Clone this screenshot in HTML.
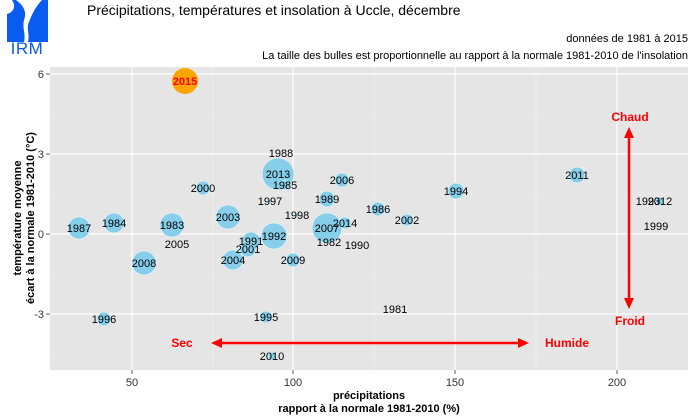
<!DOCTYPE html>
<html><head><meta charset="utf-8"><style>
body{margin:0;background:#fff;}
svg{display:block;font-family:"Liberation Sans",sans-serif;}
</style></head><body>
<svg width="700" height="420" viewBox="0 0 700 420" xmlns="http://www.w3.org/2000/svg">
<!-- logo -->
<rect x="7" y="0" width="41" height="42" fill="#0a5bf0"/>
<path d="M16 0 C24 6 27 12 24 20 C22 28 26 34 24 42 H28 C30 34 26 28 29 22 C32 14 36 6 42 0 Z" fill="#fff"/>
<path d="M7 0 H12 C16 6 14 12 7 14 Z" fill="#fff"/>
<text x="27" y="54" font-size="17" fill="#0a5bf0" text-anchor="middle" letter-spacing="0.5">IRM</text>
<text x="87" y="15" font-size="14" fill="#000">Précipitations, températures et insolation à Uccle, décembre</text>
<text x="688" y="42" font-size="11" fill="#000" text-anchor="end">données de 1981 à 2015</text>
<text x="688" y="59" font-size="11" fill="#000" text-anchor="end">La taille des bulles est proportionnelle au rapport à la normale 1981-2010 de l'insolation</text>
<!-- panel -->
<rect x="50" y="67" width="638" height="303" fill="#e5e5e5"/>
<g stroke="#f2f2f2" stroke-width="0.6">
<line x1="213" y1="67" x2="213" y2="370"/><line x1="374" y1="67" x2="374" y2="370"/><line x1="536" y1="67" x2="536" y2="370"/>
<line x1="50" y1="114" x2="688" y2="114"/><line x1="50" y1="194" x2="688" y2="194"/><line x1="50" y1="274" x2="688" y2="274"/><line x1="50" y1="354" x2="688" y2="354"/>
</g>
<g stroke="#fff" stroke-width="1.2">
<line x1="132" y1="67" x2="132" y2="370"/><line x1="293" y1="67" x2="293" y2="370"/><line x1="455" y1="67" x2="455" y2="370"/><line x1="617" y1="67" x2="617" y2="370"/>
<line x1="50" y1="74" x2="688" y2="74"/><line x1="50" y1="154" x2="688" y2="154"/><line x1="50" y1="234" x2="688" y2="234"/><line x1="50" y1="314" x2="688" y2="314"/>
</g>
<!-- ticks -->
<g stroke="#333" stroke-width="0.8">
<line x1="46" y1="74" x2="50" y2="74"/><line x1="46" y1="154" x2="50" y2="154"/><line x1="46" y1="234" x2="50" y2="234"/><line x1="46" y1="314" x2="50" y2="314"/>
<line x1="132" y1="370" x2="132" y2="374"/><line x1="293" y1="370" x2="293" y2="374"/><line x1="455" y1="370" x2="455" y2="374"/><line x1="617" y1="370" x2="617" y2="374"/>
</g>
<g font-size="11" fill="#333" text-anchor="end">
<text x="44" y="78">6</text><text x="44" y="158">3</text><text x="44" y="238">0</text><text x="44" y="318">-3</text>
</g>
<g font-size="11" fill="#333" text-anchor="middle">
<text x="132" y="386">50</text><text x="293" y="386">100</text><text x="455" y="386">150</text><text x="617" y="386">200</text>
</g>
<g font-size="11" font-weight="bold" text-anchor="middle" fill="#000">
<text x="369" y="399">précipitations</text>
<text x="369" y="412">rapport à la normale 1981-2010 (%)</text>
<text transform="translate(21,218) rotate(-90)">température moyenne</text>
<text transform="translate(34,218) rotate(-90)">écart à la normale 1981-2010 (°C)</text>
</g>
<!-- bubbles -->
<g fill="#87ceeb" stroke="#fff" stroke-width="0.5">
<circle cx="79" cy="228" r="11"/><circle cx="114" cy="223" r="10"/><circle cx="172" cy="225" r="12"/>
<circle cx="144" cy="263" r="12"/><circle cx="203" cy="188" r="7"/><circle cx="228" cy="217" r="12"/>
<circle cx="251" cy="241" r="9"/><circle cx="248" cy="249" r="8"/><circle cx="233" cy="260" r="10"/>
<circle cx="274" cy="236" r="13"/><circle cx="278" cy="174" r="16"/><circle cx="285" cy="185" r="5"/>
<circle cx="293" cy="260" r="7"/><circle cx="327" cy="228" r="15"/><circle cx="345" cy="223" r="6"/>
<circle cx="327" cy="199" r="8"/><circle cx="342" cy="180" r="7"/><circle cx="378" cy="209" r="7"/>
<circle cx="407" cy="220" r="6"/><circle cx="456" cy="191" r="8"/><circle cx="577" cy="175" r="8"/>
<circle cx="660" cy="201" r="4"/><circle cx="104" cy="319" r="7"/><circle cx="266" cy="317" r="6"/>
<circle cx="272" cy="356" r="4"/><circle cx="270" cy="201" r="2"/><circle cx="297" cy="215" r="2"/>
</g>
<circle cx="185" cy="81" r="13" fill="#ffa500"/>
<text x="185" y="85" font-size="11" font-weight="bold" fill="#f00" text-anchor="middle">2015</text>
<g font-size="11" fill="#000" text-anchor="middle">
<text x="79" y="232">1987</text><text x="114" y="227">1984</text><text x="172" y="229">1983</text>
<text x="177" y="248">2005</text><text x="144" y="267">2008</text><text x="203" y="192">2000</text>
<text x="228" y="221">2003</text><text x="251" y="245">1991</text><text x="248" y="253">2001</text>
<text x="233" y="264">2004</text><text x="274" y="240">1992</text><text x="278" y="178">2013</text>
<text x="281" y="157">1988</text><text x="285" y="189">1985</text><text x="270" y="205">1997</text>
<text x="297" y="219">1998</text><text x="293" y="264">2009</text><text x="327" y="232">2007</text>
<text x="329" y="246">1982</text><text x="357" y="249">1990</text><text x="345" y="227">2014</text>
<text x="327" y="203">1989</text><text x="342" y="184">2006</text><text x="378" y="213">1986</text>
<text x="407" y="224">2002</text><text x="456" y="195">1994</text><text x="577" y="179">2011</text>
<text x="648" y="205">1993</text><text x="660" y="205">2012</text><text x="656" y="230">1999</text>
<text x="104" y="323">1996</text><text x="266" y="321">1995</text><text x="395" y="313">1981</text>
<text x="272" y="360">2010</text>
</g>
<!-- arrows -->
<g stroke="#f00" stroke-width="2.5" fill="#f00">
<line x1="629" y1="136" x2="629" y2="300"/>
<line x1="221" y1="343" x2="519" y2="343"/>
</g>
<g fill="#f00">
<polygon points="629,127 624,138 634,138"/><polygon points="629,309 624,298 634,298"/>
<polygon points="211,343 222,338 222,348"/><polygon points="529,343 518,338 518,348"/>
</g>
<g font-size="12" font-weight="bold" fill="#f00" text-anchor="middle">
<text x="630" y="121">Chaud</text><text x="630" y="325">Froid</text>
<text x="182" y="347">Sec</text><text x="567" y="347">Humide</text>
</g>
</svg>
</body></html>
